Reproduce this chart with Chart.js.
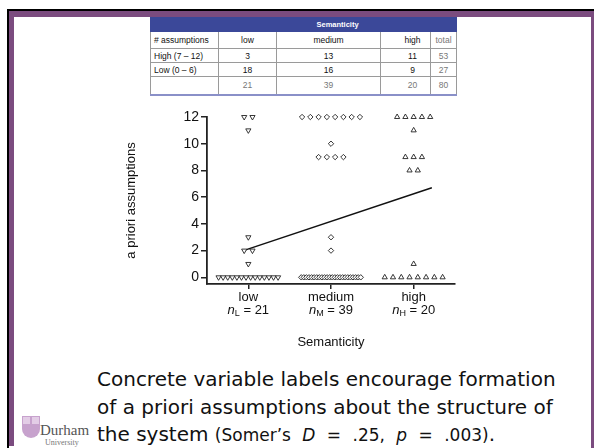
<!DOCTYPE html>
<html><head><meta charset="utf-8">
<script src="https://cdn.jsdelivr.net/npm/chart.js@4/dist/chart.umd.min.js"></script>
<style>
body{margin:0;width:594px;height:448px;background:#fff;position:relative;overflow:hidden;font-family:"Liberation Sans",Arial,sans-serif}
.bar{position:absolute}
#tbl{position:absolute;left:150px;top:17px;width:306px;border-collapse:collapse;font-size:8.5px;color:#111;table-layout:fixed}
#tbl td{padding:0;text-align:center;border-left:1px solid #9a9a9a;border-right:1px solid #9a9a9a;border-bottom:1px solid #9a9a9a}
#tbl tr.head td{background:#3b4899;color:#fff;font-weight:bold;font-size:7.5px;border-color:#3b4899;height:14px}
#tbl td.first{text-align:left;padding-left:3px}
#tbl td.c3{padding-left:14px}
#tbl tr.tot td{color:#777;border-bottom:2px solid #8a90c8}
#tbl td.c4{color:#777}
#chartwrap{position:absolute;left:100px;top:105px;width:380px;height:250px}
#caption{position:absolute;left:97px;top:366px;font-family:"DejaVu Sans",Verdana,sans-serif;font-size:20px;line-height:27.5px;color:#111;white-space:nowrap}
#caption .small{font-size:17px;word-spacing:6px}
#shield{position:absolute;left:22px;top:416px;width:18px;height:22px;background:#c7a2cd;border-radius:0 0 9px 9px;overflow:hidden}
#shield .q{position:absolute;width:7px;height:7px;background:#e3cde6}
#durham{position:absolute;left:40px;top:422px;font-family:"Liberation Serif","DejaVu Serif",serif;font-size:15px;color:#555}
#univ{position:absolute;left:45px;top:438px;font-family:"Liberation Serif","DejaVu Serif",serif;font-size:8px;color:#777}
</style></head>
<body>
<div class="bar" style="left:7px;top:9px;width:587px;height:2px;background:#000"></div>
<div class="bar" style="left:7px;top:9px;width:2px;height:439px;background:#000"></div>
<div class="bar" style="left:9px;top:11px;width:585px;height:6px;background:#7b4c7f"></div>
<div class="bar" style="left:9px;top:11px;width:5px;height:435px;background:#7b4c7f"></div>
<div class="bar" style="left:591px;top:11px;width:3px;height:437px;background:#7b4c7f"></div>

<table id="tbl"></table>

<div id="chartwrap"><canvas id="c" width="380" height="250"></canvas></div>

<div id="caption">Concrete variable labels encourage formation<br>of a priori assumptions about the structure of<br>the system <span class="small"><span style="word-spacing:0">(Somer’s</span> <i>D</i> = .25, <i>p</i> = .003)</span>.</div>
<div id="shield"><div class="q" style="left:1px;top:1px"></div><div class="q" style="left:10px;top:1px"></div></div>
<div id="durham">Durham</div>
<div id="univ">University</div>

<script>
// ---- data ----
const categories = ['low', 'medium', 'high'];
const nSubscripts = ['L', 'M', 'H'];
const nCounts = [21, 39, 20];
const lowScores = [12,12,11,3,2,2,1,0,0,0,0,0,0,0,0,0,0,0,0,0,0];
const mediumScores = [12,12,12,12,12,12,12,12,10,9,9,9,9,3,2,0,0,0,0,0,0,0,0,0,0,0,0,0,0,0,0,0,0,0,0,0,0,0,0];
const highScores = [12,12,12,12,12,11,9,9,9,8,8,1,0,0,0,0,0,0,0,0];
const regX = [-0.06, 2.22];
const regY = [2.0, 6.7];
const yTicks = [0, 2, 4, 6, 8, 10, 12];
const tableHeader = ['# assumptions', 'low', 'medium', 'high', 'total'];
const tableHighRow = ['High (7 – 12)', 3, 13, 11, 53];
const tableLowRow = ['Low (0 – 6)', 18, 16, 9, 27];
const tableTotalRow = ['', 21, 39, 20, 80];

// ---- table ----
const tbl = document.getElementById('tbl');
const colW = [68, 58, 104, 50, 26];
let html = '<colgroup>' + colW.map(w => '<col style="width:' + w + 'px">').join('') + '</colgroup>';
html += '<tr class="head"><td></td><td colspan="4">Semanticity</td></tr>';
function row(arr, cls, h) {
  return '<tr class="' + cls + '" style="height:' + h + 'px">' + arr.map((v, i) =>
    '<td class="' + (i === 0 ? 'first' : 'c' + i) + '">' + v + '</td>').join('') + '</tr>';
}
html += row(tableHeader, 'r1', 17);
html += row(tableHighRow, 'r2', 14);
html += row(tableLowRow, 'r3', 14);
html += row(tableTotalRow, 'tot', 18);
tbl.innerHTML = html;

// ---- horizontal spread of tied values ----
function spread(scores, center) {
  const groups = {};
  scores.forEach(v => { (groups[v] = groups[v] || []).push(v); });
  const pts = [];
  Object.keys(groups).forEach(k => {
    const n = groups[k].length;
    const step = n > 1 ? Math.min(0.1, 0.72 / (n - 1)) : 0;
    for (let i = 0; i < n; i++) {
      pts.push({ x: center + (i - (n - 1) / 2) * step, y: +k });
    }
  });
  return pts;
}

const font = { family: '"Liberation Sans", Arial, sans-serif', size: 13 };
const ink = '#222';

const nLabelPlugin = {
  id: 'nLabels',
  afterDraw(chart) {
    const ctx = chart.ctx;
    const xs = chart.scales.x;
    const y = 310 - 105;
    ctx.save();
    ctx.fillStyle = '#111';
    ctx.textBaseline = 'middle';
    categories.forEach((c, i) => {
      const cx = xs.getPixelForValue(i);
      const p1 = 'n', p2 = nSubscripts[i], p3 = ' = ' + nCounts[i];
      ctx.font = 'italic 13px "Liberation Sans", Arial, sans-serif';
      const w1 = ctx.measureText(p1).width;
      ctx.font = '9px "Liberation Sans", Arial, sans-serif';
      const w2 = ctx.measureText(p2).width;
      ctx.font = '13px "Liberation Sans", Arial, sans-serif';
      const w3 = ctx.measureText(p3).width;
      let x = cx - (w1 + w2 + w3) / 2;
      ctx.textAlign = 'left';
      ctx.font = 'italic 13px "Liberation Sans", Arial, sans-serif';
      ctx.fillText(p1, x, y); x += w1;
      ctx.font = '9px "Liberation Sans", Arial, sans-serif';
      ctx.fillText(p2, x, y + 4); x += w2;
      ctx.font = '13px "Liberation Sans", Arial, sans-serif';
      ctx.fillText(p3, x, y);
    });
    ctx.restore();
  }
};

const pointCommon = {
  type: 'scatter',
  backgroundColor: '#fff',
  borderColor: '#222',
  borderWidth: 0.9,
  pointRadius: 3,
  pointHoverRadius: 3,
  clip: false
};

new Chart(document.getElementById('c'), {
  data: {
    datasets: [
      { ...pointCommon, label: 'low', data: spread(lowScores, 0), pointStyle: 'triangle', pointRotation: 180 },
      { ...pointCommon, label: 'medium', data: spread(mediumScores, 1), pointStyle: 'rectRot', pointRadius: 2.7 },
      { ...pointCommon, label: 'high', data: spread(highScores, 2), pointStyle: 'triangle' },
      { type: 'line', label: 'trend', data: regX.map((x, i) => ({ x, y: regY[i] })), borderColor: '#111', borderWidth: 1.5, pointRadius: 0, fill: false, clip: false }
    ]
  },
  options: {
    responsive: false,
    animation: false,
    devicePixelRatio: 1,
    layout: { padding: { top: 12, right: 25, left: 0, bottom: 0 } },
    plugins: { legend: { display: false }, tooltip: { enabled: false } },
    scales: {
      x: {
        type: 'linear', min: -0.5, max: 2.5,
        afterBuildTicks(s) { s.ticks = categories.map((c, i) => ({ value: i })); },
        afterFit(s) { s.height = 71; },
        ticks: { callback: v => categories[v], color: '#111', font, padding: 1, autoSkip: false, maxRotation: 0 },
        grid: { drawOnChartArea: false, drawTicks: true, tickLength: 5, color: ink, lineWidth: 1.5 },
        border: { display: true, color: ink, width: 1.8 },
        title: { display: true, text: 'Semanticity', color: '#111', font, padding: { bottom: 5, top: 0 } }
      },
      y: {
        type: 'linear', min: -0.5, max: 12,
        afterBuildTicks(s) { s.ticks = yTicks.map(v => ({ value: v })); },
        afterFit(s) { s.width = 107; },
        ticks: { color: '#111', font: { ...font, size: 14 }, padding: 2 },
        grid: { drawOnChartArea: false, drawTicks: true, tickLength: 6, color: ink, lineWidth: 1.5 },
        border: { display: true, color: ink, width: 1.8 },
        title: { display: true, text: 'a priori assumptions', color: '#111', font, padding: { top: 24, bottom: 0 } }
      }
    }
  },
  plugins: [nLabelPlugin]
});
</script>
</body></html>
